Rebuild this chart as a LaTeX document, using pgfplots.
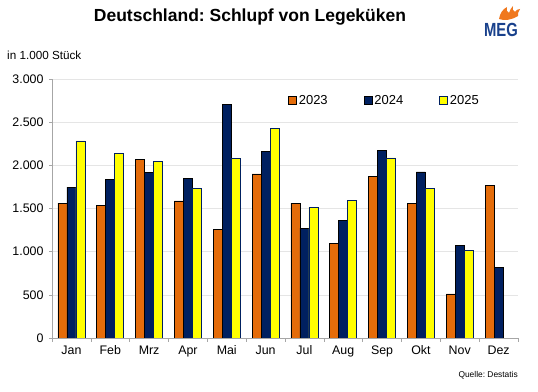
\documentclass[border=0pt]{standalone}
\usepackage{pgfplots}
\pgfplotsset{compat=1.18}
\usepackage{fontspec}
\setmainfont{Liberation Sans}
\frenchspacing
\definecolor{cOrange}{RGB}{228,108,10}
\definecolor{cNavy}{RGB}{0,32,96}
\definecolor{cYellow}{RGB}{255,255,0}
\definecolor{cLogo}{RGB}{25,65,140}
\definecolor{cFlame}{RGB}{240,120,30}
\begin{document}
\begin{tikzpicture}[x=1pt,y=1pt]
\useasboundingbox (0pt,0pt) rectangle (538pt,391pt);
\node[anchor=base,inner sep=0pt,font=\bfseries\fontsize{17.5}{20}\selectfont] at (250pt,369.5pt) {Deutschland: Schlupf von Legeküken};
\node[anchor=base west,inner sep=0pt,font=\fontsize{11.7}{13}\selectfont] at (7pt,331pt) {in 1.000 Stück};
\node[anchor=base east,inner sep=0pt,font=\fontsize{8.4}{10}\selectfont] at (518pt,14pt) {Quelle: Destatis};
% logo
\node[font=\bfseries\fontsize{19}{20}\selectfont,text=cLogo,inner sep=0pt] at (501pt,361pt) {\scalebox{0.78}[1]{MEG}};
\fill[cFlame] (499pt,372pt) .. controls (500pt,378pt) and (503pt,382pt) .. (507pt,384pt)
  .. controls (506pt,381pt) and (507pt,379pt) .. (509pt,378pt)
  .. controls (510pt,381pt) and (511pt,383pt) .. (513pt,385pt)
  .. controls (512pt,382pt) and (513pt,380pt) .. (515pt,379pt)
  .. controls (516pt,381pt) and (518pt,382pt) .. (520pt,382pt)
  .. controls (518pt,380pt) and (518pt,377pt) .. (518pt,375pt)
  .. controls (512pt,371pt) and (504pt,370pt) .. (499pt,372pt) -- cycle;
\begin{axis}[
  at={(52pt,53pt)}, anchor=south west,
  scale only axis, width=466pt, height=259pt,
  xmin=-0.5, xmax=11.5, ymin=0, ymax=3000,
  ybar=0pt, bar width=9pt,
  axis x line*=bottom, axis y line*=left,
  axis line style={gray!70, line width=0.6pt},
  xtick={0,...,11},
  xticklabels={Jan,Feb,Mrz,Apr,Mai,Jun,Jul,Aug,Sep,Okt,Nov,Dez},
  minor xtick={-0.5,0.5,...,11.5},
  x tick style={draw=none},
  minor x tick style={draw=gray!70, line width=0.6pt},
  minor tick length=4pt,
  ytick={0,500,...,3000},
  y tick style={draw=gray!70, line width=0.6pt},
  major tick length=3pt,
  tick align=outside,
  ymajorgrids, grid style={gray!20, line width=0.6pt},
  tick label style={font=\fontsize{12.4}{14}\selectfont},
  xticklabel style={yshift=-1pt},
  yticklabel style={xshift=-2pt},
  /pgf/number format/.cd, 1000 sep={.}, assume math mode=true,
  /pgfplots/.cd,
  legend columns=3,
  legend style={draw=none, fill=none, at={(0.5,0.916)}, anchor=west,
    font=\fontsize{13}{14}\selectfont,
    /tikz/every odd column/.append style={column sep=0pt},
    /tikz/every even column/.append style={column sep=34pt}},
  legend image code/.code={\draw[#1] (0pt,-4pt) rectangle (8pt,4pt);},
]
\addplot[fill=cOrange, draw=black, line width=0.6pt] coordinates {
 (0,1563) (1,1536) (2,2065) (3,1587) (4,1254) (5,1900) (6,1563) (7,1092) (8,1876) (9,1563) (10,510) (11,1764)};
\addplot[fill=cNavy, draw=black, line width=0.6pt] coordinates {
 (0,1749) (1,1837) (2,1918) (3,1853) (4,2706) (5,2161) (6,1274) (7,1359) (8,2177) (9,1923) (10,1077) (11,822)};
\addplot[fill=cYellow, draw=cNavy, line width=0.6pt] coordinates {
 (0,2282) (1,2138) (2,2042) (3,1733) (4,2080) (5,2428) (6,1517) (7,1594) (8,2085) (9,1733) (10,1015)};
\legend{2023,2024,2025}
\end{axis}
\end{tikzpicture}
\end{document}
